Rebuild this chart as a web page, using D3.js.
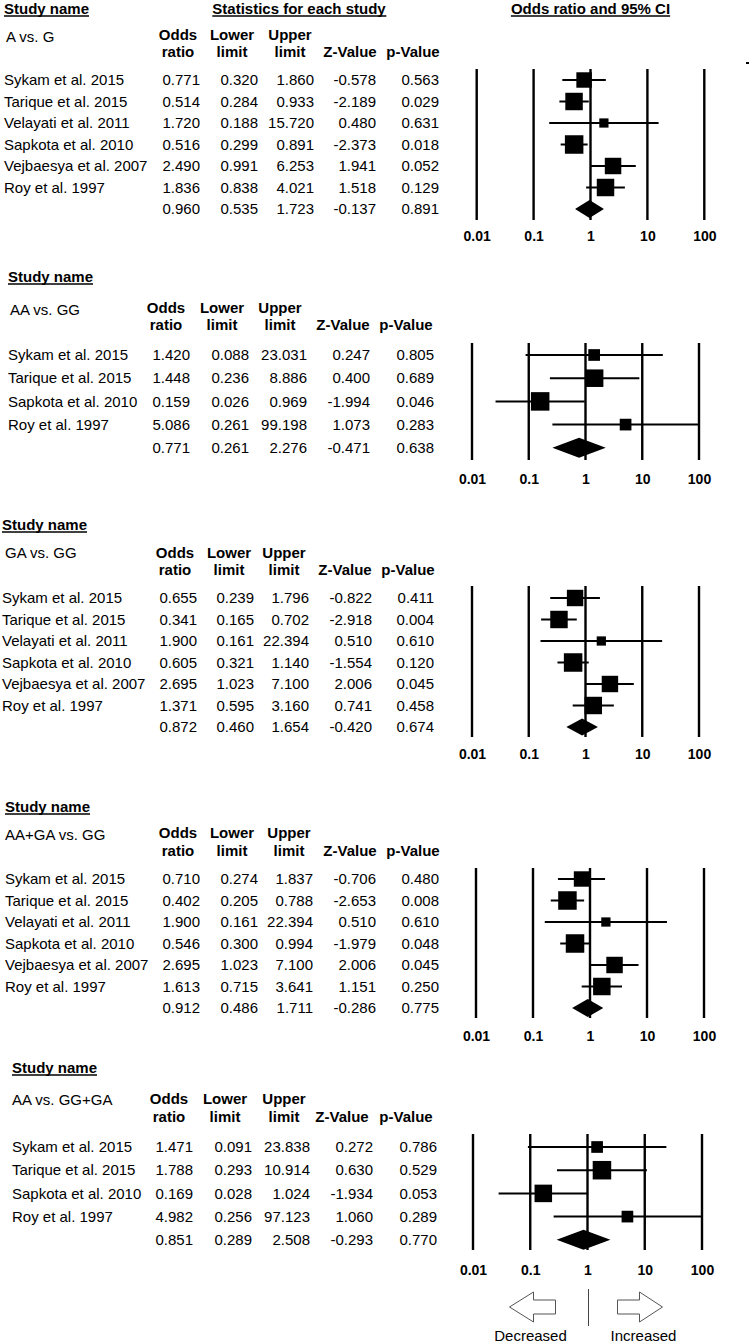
<!DOCTYPE html>
<html><head><meta charset="utf-8">
<script src="https://cdn.jsdelivr.net/npm/d3@7"></script>
<style>
html,body{margin:0;padding:0;background:#fff;}
svg{display:block;font-family:"Liberation Sans",Arial,Helvetica,sans-serif;}
</style></head><body>
<svg id="chart" width="750" height="1344"></svg>
<script>
// ---------------- DATA ----------------
const studies6 = ["Sykam et al. 2015","Tarique et al. 2015","Velayati et al. 2011","Sapkota et al. 2010","Vejbaesya et al. 2007","Roy et al. 1997"];
const studies4 = ["Sykam et al. 2015","Tarique et al. 2015","Sapkota et al. 2010","Roy et al. 1997"];
const comparisons = ["A vs. G","AA vs. GG","GA vs. GG","AA+GA vs. GG","AA vs. GG+GA"];
const tickValues = [0.01,0.1,1,10,100];
const tickLabels = ["0.01","0.1","1","10","100"];
const headerTop = ["Odds","Lower","Upper","",""];
const headerBottom = ["ratio","limit","limit","Z-Value","p-Value"];
const directionLabels = ["Decreased","Increased"];

// A vs. G  (last value = pooled summary)
const orAG    = [0.771,0.514,1.720,0.516,2.490,1.836,0.960];
const lowerAG = [0.320,0.284,0.188,0.299,0.991,0.838,0.535];
const upperAG = [1.860,0.933,15.720,0.891,6.253,4.021,1.723];
const zAG     = [-0.578,-2.189,0.480,-2.373,1.941,1.518,-0.137];
const pAG     = [0.563,0.029,0.631,0.018,0.052,0.129,0.891];
const wAG     = [15.4,19.7,5.5,22.1,17.5,19.7];

// AA vs. GG
const orAAGG    = [1.420,1.448,0.159,5.086,0.771];
const lowerAAGG = [0.088,0.236,0.026,0.261,0.261];
const upperAAGG = [23.031,8.886,0.969,99.198,2.276];
const zAAGG     = [0.247,0.400,-1.994,1.073,-0.471];
const pAAGG     = [0.805,0.689,0.046,0.283,0.638];
const wAAGG     = [14.8,33.3,37.1,14.8];

// GA vs. GG
const orGAGG    = [0.655,0.341,1.900,0.605,2.695,1.371,0.872];
const lowerGAGG = [0.239,0.165,0.161,0.321,1.023,0.595,0.460];
const upperGAGG = [1.796,0.702,22.394,1.140,7.100,3.160,1.654];
const zGAGG     = [-0.822,-2.918,0.510,-1.554,2.006,0.741,-0.420];
const pGAGG     = [0.411,0.004,0.610,0.120,0.045,0.458,0.674];
const wGAGG     = [17.1,19.3,5.4,21.7,17.1,19.3];

// AA+GA vs. GG
const orDom    = [0.710,0.402,1.900,0.546,2.695,1.613,0.912];
const lowerDom = [0.274,0.205,0.161,0.300,1.023,0.715,0.486];
const upperDom = [1.837,0.788,22.394,0.994,7.100,3.641,1.711];
const zDom     = [-0.706,-2.653,0.510,-1.979,2.006,1.151,-0.286];
const pDom     = [0.480,0.008,0.610,0.048,0.045,0.250,0.775];
const wDom     = [15.0,21.6,5.4,21.6,17.1,19.3];

// AA vs. GG+GA
const orRec    = [1.471,1.788,0.169,4.982,0.851];
const lowerRec = [0.091,0.293,0.028,0.256,0.289];
const upperRec = [23.838,10.914,1.024,97.123,2.508];
const zRec     = [0.272,0.630,-1.934,1.060,-0.293];
const pRec     = [0.786,0.529,0.053,0.289,0.770];
const wRec     = [14.8,37.1,33.3,14.8];

// ---------------- LAYOUT ----------------
const panels = [
  {label:comparisons[0], names:studies6, or:orAG, lo:lowerAG, hi:upperAG, z:zAG, p:pAG, w:wAG},
  {label:comparisons[1], names:studies4, or:orAAGG, lo:lowerAAGG, hi:upperAAGG, z:zAAGG, p:pAAGG, w:wAAGG},
  {label:comparisons[2], names:studies6, or:orGAGG, lo:lowerGAGG, hi:upperGAGG, z:zGAGG, p:pGAGG, w:wGAGG},
  {label:comparisons[3], names:studies6, or:orDom, lo:lowerDom, hi:upperDom, z:zDom, p:pDom, w:wDom},
  {label:comparisons[4], names:studies4, or:orRec, lo:lowerRec, hi:upperRec, z:zRec, p:pRec, w:wRec}
];
const layouts = [
  {nameX:4, titleY:9, labelX:6, labelY:37, hdrY1:35, hdrY2:52, rowY0:80, rowStep:21.5,
   colRight:[200,258,314,376,439], hdrX:[178,232,290,350,413],
   x0:476.7, x1:704.3, lineTop:69, lineBottom:220, axisY:236, diamondH:18},
  {nameX:8, titleY:277, labelX:10, labelY:310, hdrY1:308, hdrY2:325, rowY0:355, rowStep:23.2,
   colRight:[190,249,307,370,434], hdrX:[166,222,280,343,406],
   x0:472, x1:699, lineTop:343, lineBottom:460, axisY:479, diamondH:20},
  {nameX:2, titleY:525, labelX:5, labelY:553, hdrY1:553, hdrY2:570, rowY0:598, rowStep:21.5,
   colRight:[197,254,309,372,434], hdrX:[175,229,284,345,408],
   x0:472, x1:699, lineTop:586, lineBottom:737, axisY:754, diamondH:17},
  {nameX:5, titleY:807, labelX:5, labelY:835, hdrY1:833, hdrY2:851, rowY0:879, rowStep:21.5,
   colRight:[200,258,313,376,439], hdrX:[178,232,289,350,413],
   x0:476, x1:704, lineTop:868, lineBottom:1018, axisY:1036, diamondH:18},
  {nameX:12, titleY:1068, labelX:12, labelY:1100, hdrY1:1099, hdrY2:1117, rowY0:1147, rowStep:23.2,
   colRight:[193,252,310,373,437], hdrX:[169,225,284,342,406],
   x0:473, x1:702, lineTop:1134, lineBottom:1250, axisY:1270, diamondH:20}
];

const fmt = d3.formatLocale({decimal:".", thousands:",", grouping:[3], currency:["",""], minus:"-"}).format(".3f");
const svg = d3.select("#chart");
const FS = 15;

function underline(sel, y, sw) {
  const b = sel.node().getBBox();
  svg.append("line").attr("x1", b.x).attr("x2", b.x + b.width)
    .attr("y1", y).attr("y2", y).attr("stroke", "#000").attr("stroke-width", sw || 1.4);
}

// top headers
const h1 = svg.append("text").attr("x", 299).attr("y", 9).attr("dy", "0.35em")
  .attr("text-anchor", "middle").attr("font-weight", "bold").attr("font-size", FS)
  .text("Statistics for each study");
underline(h1, 16);

panels.forEach((d, pi) => {
  const L = layouts[pi];
  const g = svg.append("g");
  const n = d.names.length;
  const rowY = i => L.rowY0 + i * L.rowStep;

  const sn = g.append("text").attr("x", L.nameX).attr("y", L.titleY).attr("dy", "0.35em")
    .attr("font-weight", "bold").attr("font-size", FS).text("Study name");
  underline(sn, L.titleY + 7);

  g.append("text").attr("x", L.labelX).attr("y", L.labelY).attr("dy", "0.35em")
    .attr("font-size", FS).text(d.label);

  headerTop.forEach((h, i) => {
    if (!h) return;
    g.append("text").attr("x", L.hdrX[i]).attr("y", L.hdrY1).attr("dy", "0.35em")
      .attr("text-anchor", "middle").attr("font-weight", "bold").attr("font-size", FS).text(h);
  });
  headerBottom.forEach((h, i) => {
    g.append("text").attr("x", L.hdrX[i]).attr("y", L.hdrY2).attr("dy", "0.35em")
      .attr("text-anchor", "middle").attr("font-weight", "bold").attr("font-size", FS).text(h);
  });

  g.selectAll("text.name").data(d.names).enter().append("text").attr("class", "name")
    .attr("x", L.nameX).attr("y", (s, i) => rowY(i)).attr("dy", "0.35em")
    .attr("font-size", FS).text(s => s);

  [d.or, d.lo, d.hi, d.z, d.p].forEach((col, j) => {
    g.selectAll("text.c" + j).data(col).enter().append("text").attr("class", "c" + j)
      .attr("x", L.colRight[j]).attr("y", (v, i) => rowY(i)).attr("dy", "0.35em")
      .attr("text-anchor", "end").attr("font-size", FS).text(v => fmt(v));
  });

  // plot
  const x = d3.scaleLog().domain([0.01, 100]).range([L.x0, L.x1]);
  g.selectAll("line.grid").data(tickValues).enter().append("line").attr("class", "grid")
    .attr("x1", t => x(t)).attr("x2", t => x(t))
    .attr("y1", L.lineTop).attr("y2", L.lineBottom)
    .attr("stroke", "#000").attr("stroke-width", 2.4);

  const ax = g.append("g").attr("transform", `translate(0,${L.axisY})`)
    .call(d3.axisBottom(x).tickValues(tickValues).tickFormat((t, i) => tickLabels[i]).tickSize(0).tickPadding(0));
  ax.select(".domain").remove();
  ax.attr("font-family", null).attr("font-size", null);
  ax.selectAll("text").attr("y", 0).attr("dy", "0.35em").attr("font-size", 14)
    .attr("font-weight", "bold").attr("fill", "#000");

  const studyIdx = d3.range(n);
  const side = d3.scaleSqrt().domain([0, d3.max(d.w)]).range([0, 18.5]);

  g.selectAll("line.ci").data(studyIdx).enter().append("line").attr("class", "ci")
    .attr("x1", i => x(d.lo[i])).attr("x2", i => x(Math.min(d.hi[i], 100)))
    .attr("y1", i => rowY(i)).attr("y2", i => rowY(i))
    .attr("stroke", "#000").attr("stroke-width", 2);

  g.selectAll("rect.sq").data(studyIdx).enter().append("rect").attr("class", "sq")
    .attr("x", i => x(d.or[i]) - side(d.w[i]) / 2)
    .attr("y", i => rowY(i) - side(d.w[i]) / 2)
    .attr("width", i => side(d.w[i])).attr("height", i => side(d.w[i]))
    .attr("fill", "#000");

  const yS = rowY(n), hh = L.diamondH / 2;
  g.append("path")
    .attr("d", `M${x(d.lo[n])},${yS}L${x(d.or[n])},${yS - hh}L${x(d.hi[n])},${yS}L${x(d.or[n])},${yS + hh}Z`)
    .attr("fill", "#000");

  if (pi === 0) {
    const h2 = svg.append("text").attr("x", x(1)).attr("y", 9).attr("dy", "0.35em")
      .attr("text-anchor", "middle").attr("font-weight", "bold").attr("font-size", FS)
      .text("Odds ratio and 95% CI");
    underline(h2, 16);
    svg.append("rect").attr("x", 746).attr("y", 62).attr("width", 3).attr("height", 2).attr("fill", "#000");
  }

  if (pi === panels.length - 1) {
    const cx = x(1), cy = 1307;
    const arrowL = [[cx-78,cy],[cx-54,cy-15],[cx-54,cy-7],[cx-32,cy-7],[cx-32,cy+7],[cx-54,cy+7],[cx-54,cy+15]];
    const arrowR = [[cx+75,cy],[cx+52,cy-15],[cx+52,cy-7],[cx+30,cy-7],[cx+30,cy+7],[cx+52,cy+7],[cx+52,cy+15]];
    [arrowL, arrowR].forEach(pts => {
      svg.append("polygon").attr("points", pts.map(p => p.join(",")).join(" "))
        .attr("fill", "#fff").attr("stroke", "#555").attr("stroke-width", 1);
    });
    svg.append("line").attr("x1", cx + 1).attr("x2", cx + 1).attr("y1", 1289).attr("y2", 1326)
      .attr("stroke", "#444").attr("stroke-width", 1);
    svg.append("text").attr("x", cx - 57).attr("y", 1336).attr("dy", "0.35em")
      .attr("text-anchor", "middle").attr("font-size", FS).text(directionLabels[0]);
    svg.append("text").attr("x", cx + 56).attr("y", 1336).attr("dy", "0.35em")
      .attr("text-anchor", "middle").attr("font-size", FS).text(directionLabels[1]);
  }
});
</script>
</body></html>
